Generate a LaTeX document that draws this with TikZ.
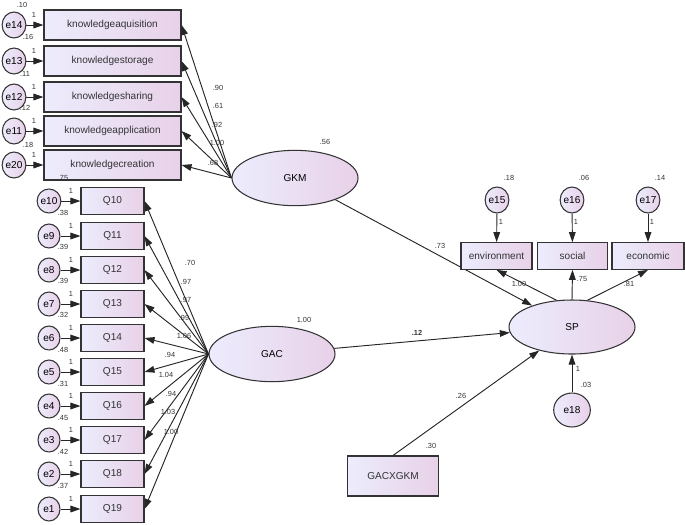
\documentclass[tikz,border=0pt]{standalone}
\usepackage{fontspec}
\setmainfont{Liberation Sans}
\usetikzlibrary{arrows.meta,shapes.geometric}
\begin{document}
\begin{tikzpicture}[x=0.03cm,y=-0.03cm,
 fillg/.style={left color=gray!15!blue!8!white,right color=violet!18!white},
 box/.style={draw=black!80,line width=0.9pt,fillg,inner sep=0pt,font=\fontsize{8.6}{9}\selectfont,text=black!80},
 bigbox/.style={box,minimum width=4.11cm,minimum height=0.9cm},
 qbox/.style={box,minimum width=1.89cm,minimum height=0.81cm},
 rbox/.style={box,minimum width=2.1cm,minimum height=0.8cm},
 err/.style={draw=black!80,line width=0.9pt,ellipse,fillg,inner sep=0pt,minimum width=0.7cm,minimum height=0.78cm,font=\fontsize{8.6}{9}\selectfont},
 lat/.style={draw=black!80,line width=0.9pt,ellipse,fillg,inner sep=0pt,minimum width=3.78cm,minimum height=1.66cm,font=\fontsize{8.6}{9}\selectfont},
 arr/.style={-{Triangle[length=0.3cm,width=0.2cm]},line width=0.8pt,black!85},
 num/.style={font=\fontsize{6.3}{7}\selectfont,inner sep=0pt,text=black!80}]
\useasboundingbox (0,0) rectangle (685,524);
% top indicators
\foreach \n/\t/\y/\v/\vx/\vy in {e14/knowledgeaquisition/25/.10/22/5, e13/knowledgestorage/61/.16/28/37, e12/knowledgesharing/97/.11/25/74, e11/knowledgeapplication/131/.12/25/108, e20/knowledgecreation/165/.18/28/145}{
 \node[bigbox] (b\n) at (112.5,\y) {\t};
 \node[err] (\n) at (14,\y) {\n};
 \draw[arr] (\n) -- (b\n);
 \node[num] at (\vx,\vy) {\v};
 \node[num] at (34,\y-10) {1};
}
% Q indicators
\foreach \n/\t/\y/\v in {e10/Q10/201/.75, e9/Q11/236/.38, e8/Q12/270/.39, e7/Q13/304/.39, e6/Q14/338/.32, e5/Q15/372/.48, e4/Q16/406/.31, e3/Q17/440/.45, e2/Q18/474/.42, e1/Q19/509/.37}{
 \node[qbox] (b\n) at (112.5,\y) {\t};
 \node[err,minimum width=0.66cm,minimum height=0.72cm] (\n) at (49,\y) {\n};
 \draw[arr] (\n) -- (b\n);
 \node[num] at (71,\y-10) {1};
}
\foreach \y/\v in {178/.75,213/.38,247/.39,281/.39,315/.32,350/.48,384/.31,418/.45,452/.42,486/.37}{\node[num] at (63,\y) {\v};}
% latents
\node[lat] (gkm) at (295,178) {GKM};
\node[lat] (gac) at (272,354) {GAC};
\node[lat,minimum height=1.62cm] (sp) at (572,327) {SP};
\node[box,minimum width=2.73cm,minimum height=1.2cm] (gx) at (393,476) {GACXGKM};
\node[num] at (325,142) {.56};
\node[num] at (304,320) {1.00};
\node[num] at (431,446) {.30};
% GKM loadings
\foreach \n in {e14,e13,e12,e11,e20}{\draw[arr] (gkm.west) -- (b\n.east);}
\foreach \x/\y/\v in {218/88/.90,218/106/.61,217/125/.92,217/143/1.00,213/163/.68}{\node[num] at (\x,\y) {\v};}
% GAC loadings
\foreach \n in {e10,e9,e8,e7,e6,e5,e4,e3,e2,e1}{\draw[arr] (gac.west) -- (b\n.east);}
\foreach \x/\y/\v in {190/263/.70,186/282/.97,186/300/.97,184/318/.99,184/336/1.06,170/355/.94,166/375/1.04,171/394/.94,168/412/1.03,171/432/1.00}{\node[num] at (\x,\y) {\v};}
% structural
\draw[arr] (gkm) -- (sp);
\draw[arr] (gac) -- (sp);
\draw[arr] (gx.north) -- (sp);
\node[num] at (440,246) {.73};
\node[num,font=\fontsize{6.3}{7}\selectfont\bfseries] at (417,333) {.12};
\node[num] at (461,396) {.26};
% SP indicators
\node[rbox,minimum width=2.13cm] (env) at (496.5,256) {environment};
\node[rbox] (soc) at (572.5,256) {social};
\node[rbox,minimum width=2.16cm] (eco) at (648,256) {economic};
\foreach \n/\b/\x/\v in {e15/env/497/.18, e16/soc/572/.06, e17/eco/648/.14}{
 \node[err] (\n) at (\x,200) {\n};
 \draw[arr] (\n) -- (\b);
 \node[num] at (\x+12,178) {\v};
 \node[num] at (\x+4,222) {1};
}
\draw[arr] (sp.120) -- (env.south);
\draw[arr] (sp.north) -- (soc.south);
\draw[arr] (sp.60) -- (eco.south);
\node[num] at (519,284) {1.00};
\node[num] at (582,279) {.75};
\node[num] at (629,284) {.81};
\node[err,minimum width=1.1cm,minimum height=1.02cm] (e18) at (572,410) {e18};
\draw[arr] (e18) -- (sp);
\node[num] at (578,369) {1};
\node[num] at (586,385) {.03};
\end{tikzpicture}
\end{document}
